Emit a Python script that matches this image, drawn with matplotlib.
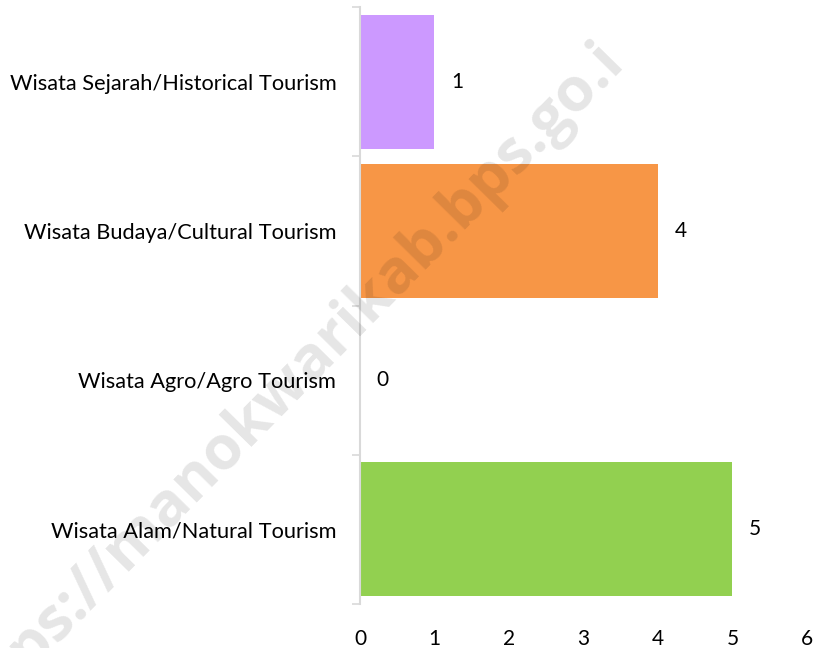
import matplotlib
matplotlib.use("Agg")
import matplotlib.pyplot as plt

categories = ["Wisata Alam/Natural Tourism", "Wisata Agro/Agro Tourism",
              "Wisata Budaya/Cultural Tourism", "Wisata Sejarah/Historical Tourism"]
values = [5, 0, 4, 1]
colors = ["#92d050", "#ffffff", "#f79646", "#cc99ff"]
xticks = [0, 1, 2, 3, 4, 5, 6]

plt.rcParams['font.family'] = ['Lato', 'DejaVu Sans']

fig = plt.figure(figsize=(8.2, 6.48), dpi=100)
ax = fig.add_axes([0.439, 0.068, 0.545, 0.921])

ypos = list(range(len(categories)))
ax.barh(ypos, values, height=0.9, color=colors, zorder=2)
for y, v in zip(ypos, values):
    ax.annotate(str(v), xy=(v, y), xytext=(12, 0), textcoords="offset points",
                va="center", ha="left", fontsize=15, color="#000000")

ax.set_xlim(0, 6)
ax.set_ylim(-0.5, len(categories) - 0.5)
ax.set_xticks(xticks)
ax.set_xticklabels([str(t) for t in xticks], fontsize=15)
ax.set_yticks(ypos)
ax.set_yticklabels(categories, fontsize=15.7)
ax.tick_params(axis="x", length=0, pad=18)
ax.tick_params(axis="y", which="major", length=0, pad=17)
ax.set_yticks([-0.5, 0.5, 1.5, 2.5, 3.5], minor=True)
ax.tick_params(axis="y", which="minor", length=6, color="#d9d9d9", width=1.2)
for s in ["top", "right", "bottom"]:
    ax.spines[s].set_visible(False)
ax.spines["left"].set_color("#d9d9d9")
ax.spines["left"].set_linewidth(1.5)

fig.text(614 / 820, 1 - 52 / 648, "https://manokwarikab.bps.go.i", rotation=45.5,
         rotation_mode="anchor", family=["Open Sans", "DejaVu Sans"],
         fontsize=44, fontweight="bold", color="black", alpha=0.1,
         ha="right", va="center", zorder=10)

fig.savefig("out.png", dpi=100)
